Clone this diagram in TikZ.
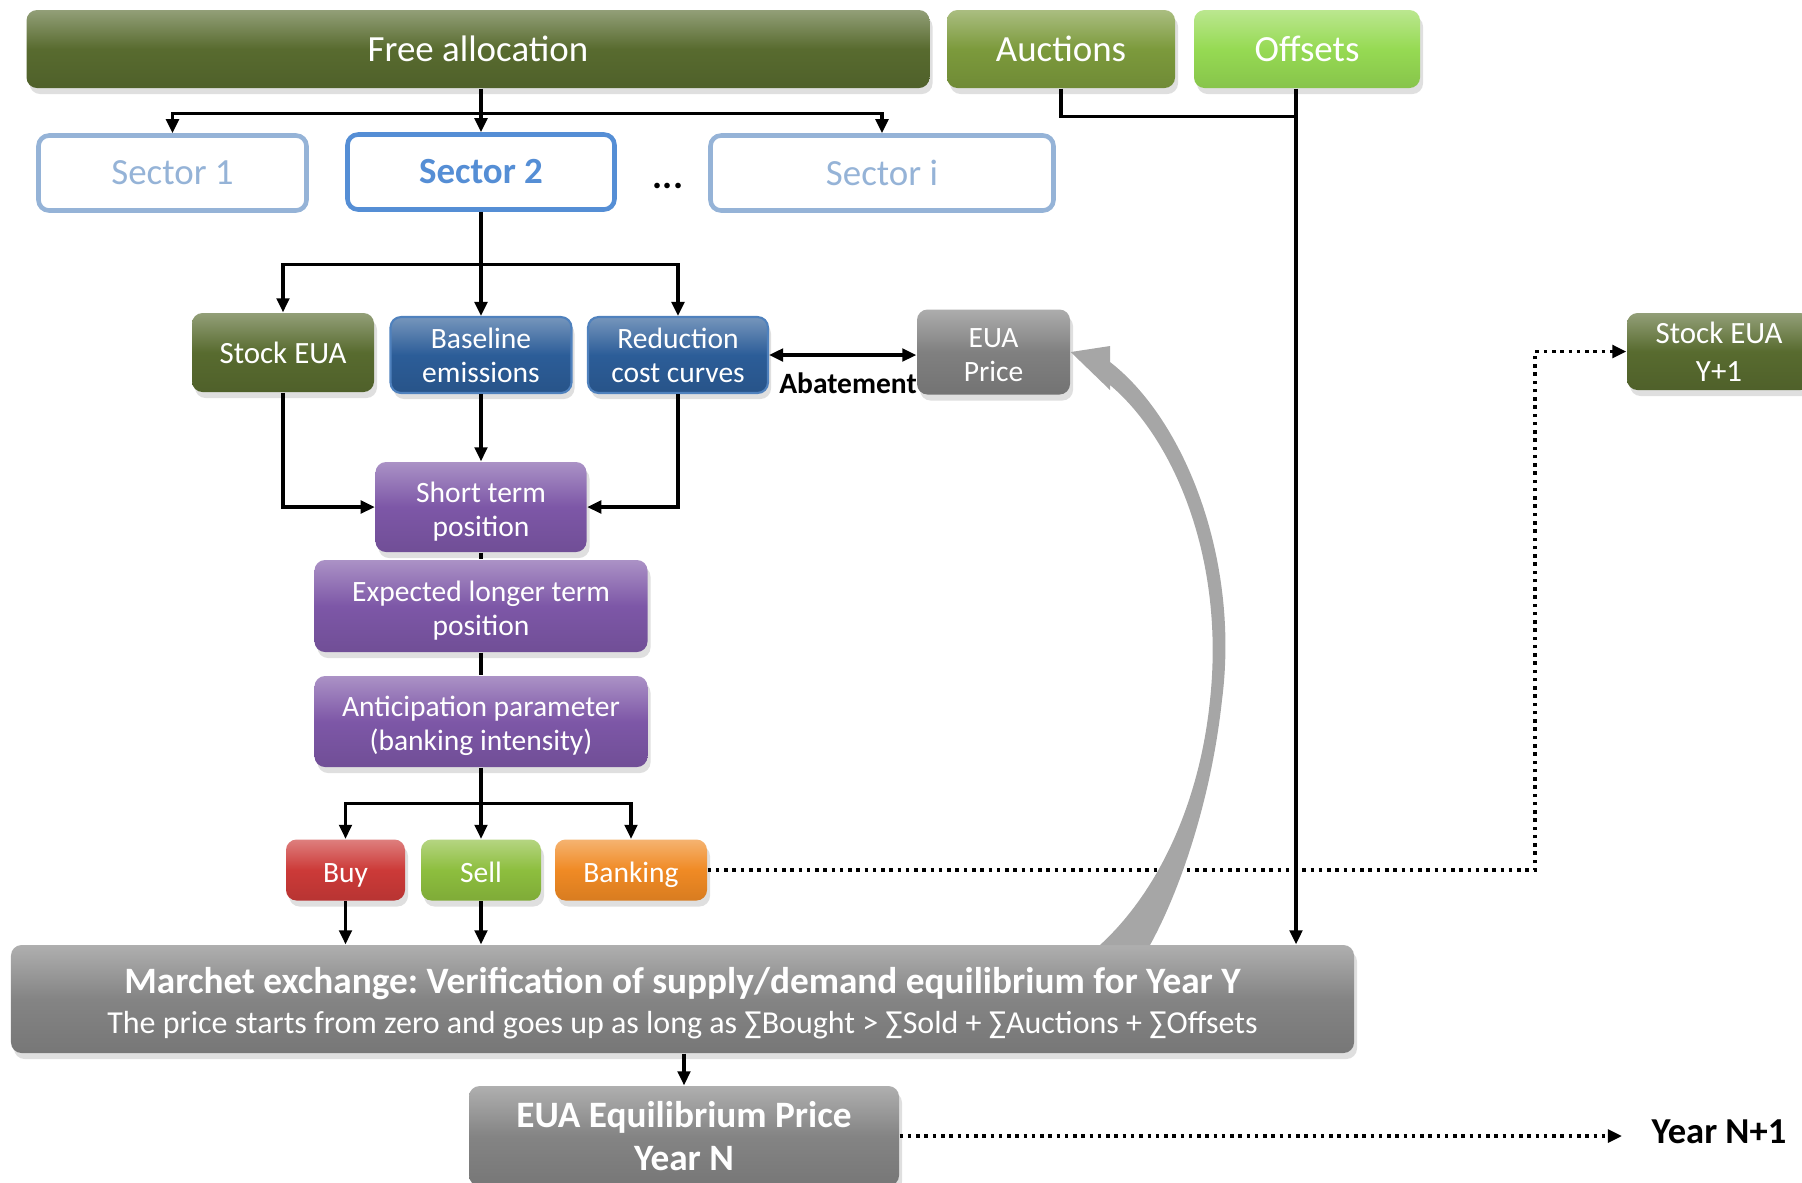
\documentclass[tikz,border=0pt]{standalone}
\usepackage{fontspec}
\setmainfont{Carlito}
\frenchspacing
\usetikzlibrary{arrows.meta,shadows}
\definecolor{olivegreen}{RGB}{88,107,47}
\definecolor{auctgreen}{RGB}{124,154,60}
\definecolor{offsetgreen}{RGB}{150,218,83}
\definecolor{sectorpale}{RGB}{149,179,215}
\definecolor{sectorblue}{RGB}{85,142,213}
\definecolor{boxblue}{RGB}{44,93,152}
\definecolor{boxrim}{RGB}{79,129,189}
\definecolor{pricegray}{RGB}{128,128,128}
\definecolor{boxpurple}{RGB}{125,87,167}
\definecolor{buyred}{RGB}{204,58,56}
\definecolor{sellgreen}{RGB}{141,190,62}
\definecolor{bankorange}{RGB}{240,138,36}
\definecolor{marketgray}{RGB}{132,132,132}
\definecolor{curvegray}{RGB}{166,166,166}
\tikzset{big/.style={font=\fontsize{10.5}{12}\selectfont}}
\tikzset{small/.style={font=\fontsize{8.4}{9.6}\selectfont}}
\tikzset{nudge/.style={execute at begin node={\rule{0pt}{#1}}}}
\tikzset{tile/.style={rounded corners=3pt, align=center, text=white, inner sep=0pt, top color=#1!65!white, bottom color=#1!90!black, middle color=#1, drop shadow={opacity=0.25, shadow xshift=0.3mm, shadow yshift=-0.6mm}}}
\tikzset{purplebox/.style={tile=boxpurple, minimum width=3.33cm, small, nudge=18pt}}
\tikzset{choice/.style={tile=#1, minimum height=0.61cm, small, text height=9pt, text depth=1.7pt}}
\tikzset{sector/.style={draw=sectorpale, line width=1.3pt, rounded corners=3pt, fill=white, text=sectorpale, minimum height=0.75cm, big}}
\tikzset{link/.style={line width=0.9pt}}
\tikzset{flow/.style={line width=0.9pt, -{Triangle[length=4pt,width=3.6pt]}}}
\tikzset{both/.style={line width=0.9pt, {Triangle[length=4pt,width=3.6pt]}-{Triangle[length=4pt,width=3.6pt]}}}
\tikzset{carry/.style={line width=1pt, dash pattern=on 1pt off 1.35pt, -{Triangle[length=4pt,width=3.6pt]}}}
\begin{document}
\begin{tikzpicture}
\useasboundingbox (0,0) rectangle (18.02,-11.82);
% supply
\node[tile=olivegreen, minimum width=9.03cm, minimum height=0.78cm, big] (free) at (4.78,-0.49) {Free allocation};
\node[tile=auctgreen, minimum width=2.28cm, minimum height=0.78cm, big] (auct) at (10.61,-0.49) {Auctions};
\node[tile=offsetgreen, minimum width=2.26cm, minimum height=0.78cm, big] (offs) at (13.07,-0.49) {Offsets};
\node[sector, minimum width=2.68cm] (sec1) at (1.725,-1.73) {Sector 1};
\node[sector, minimum width=2.67cm, draw=sectorblue, text=sectorblue, font=\fontsize{10.5}{12}\selectfont\bfseries] (sec2) at (4.81,-1.72) {Sector 2};
\node[font=\fontsize{10.7}{12}\selectfont\bfseries] (more) at (6.68,-1.86) {...};
\node[sector, minimum width=3.43cm] (seci) at (8.82,-1.73) {Sector i};
% sector 2 inputs
\node[tile=olivegreen, minimum width=1.82cm, minimum height=0.79cm, font=\fontsize{8.8}{10}\selectfont, text height=7pt, text depth=1pt] (stock) at (2.83,-3.525) {Stock EUA};
\node[tile=boxblue, draw=boxrim, line width=0.6pt, minimum width=1.81cm, minimum height=0.76cm, small] (base) at (4.81,-3.55) {Baseline\\emissions};
\node[tile=boxblue, draw=boxrim, line width=0.6pt, minimum width=1.80cm, minimum height=0.76cm, small] (redu) at (6.78,-3.55) {Reduction\\cost curves};
\node[tile=pricegray, minimum width=1.53cm, minimum height=0.85cm, small, nudge=16.6pt] (price) at (9.935,-3.52) {EUA\\Price};
\node[font=\fontsize{8.4}{9.8}\selectfont\bfseries] (abat) at (8.48,-3.83) {Abatement};
\node[tile=olivegreen, minimum width=1.84cm, minimum height=0.77cm, font=\fontsize{8.8}{10.9}\selectfont] (stocknext) at (17.19,-3.515) {Stock EUA\\Y+1};
% position
\node[purplebox, minimum width=2.11cm, minimum height=0.90cm] (short) at (4.81,-5.07) {Short term\\position};
\node[purplebox, minimum height=0.92cm] (expect) at (4.81,-6.06) {Expected longer term\\position};
\node[purplebox, minimum height=0.91cm] (antic) at (4.81,-7.215) {Anticipation parameter\\(banking intensity)};
\node[choice=buyred, minimum width=1.19cm] (buy) at (3.455,-8.70) {Buy};
\node[choice=sellgreen, minimum width=1.20cm] (sell) at (4.81,-8.70) {Sell};
\node[choice=bankorange, minimum width=1.52cm] (bank) at (6.31,-8.70) {Banking};
% market
\node[tile=marketgray, minimum width=13.43cm, minimum height=1.08cm, font=\fontsize{10.6}{11.4}\selectfont, nudge=21.3pt] (market) at (6.825,-9.99) {{\bfseries Marchet exchange: Verification of supply/demand equilibrium for Year Y}\\{\fontsize{9.1}{11.4}\selectfont The price starts from zero and goes up as long as ∑Bought > ∑Sold + ∑Auctions + ∑Offsets}};
\node[tile=marketgray, minimum width=4.30cm, minimum height=1.00cm, font=\fontsize{10.6}{12.2}\selectfont\bfseries] (equil) at (6.84,-11.36) {EUA Equilibrium Price\\Year N};
\node[font=\fontsize{10.4}{12}\selectfont\bfseries, inner xsep=2.9mm] (yearnext) at (17.19,-11.32) {Year N+1};

\path (free.south -| sec2) ++(0,-0.25) coordinate (fork1);
\draw[flow] (free.south -| sec2) -- (sec2.north);
\draw[flow] (fork1) -| (sec1.north);
\draw[flow] (fork1) -| (seci.north);
\coordinate (drop) at ([xshift=-1.1mm]offs.south);
\draw[link] (auct.south) |- ([yshift=-2.8mm]drop);
\draw[flow] (drop) -- (drop |- market.north);

\path (sec2.south) ++(0,-0.53) coordinate (fork2);
\draw[flow] (sec2.south) -- (base.north);
\draw[flow] (fork2) -| (stock.north);
\draw[flow] (fork2) -| (redu.north);
\draw[both] (redu.east) -- (redu.east -| price.west);

\draw[flow] (stock.south) |- (short.west);
\draw[flow] (base.south) -- (short.north);
\draw[flow] (redu.south) |- (short.east);
\draw[link] (short.south) -- (expect.north);
\draw[link] (expect.south) -- (antic.north);

\path (antic.south) ++(0,-0.36) coordinate (fork3);
\draw[flow] (antic.south) -- (sell.north);
\draw[flow] (fork3) -| (buy.north);
\draw[flow] (fork3) -| (bank.north);
\draw[flow] (buy.south) -- (buy.south |- market.north);
\draw[flow] (sell.south) -- (sell.south |- market.north);

\coordinate (bend) at (15.35,-8.70);
\draw[carry] (bank.east) -- (bend) |- (stocknext.west);
\draw[flow] (market.south -| equil.north) -- (equil.north);
\draw[carry] (equil.east) -- (equil.east -| yearnext.west);

% price feedback
\fill[curvegray] (price.east) -- (11.10,-3.46) -- (11.10,-3.62) .. controls (11.85,-4.20) and (12.40,-5.60) .. (12.22,-7.00) .. controls (12.10,-8.10) and (11.75,-9.00) .. (11.50,-9.45) -- (11.00,-9.45) .. controls (11.60,-8.90) and (12.00,-8.00) .. (12.10,-7.00) .. controls (12.25,-5.60) and (11.75,-4.40) .. (11.10,-3.85) -- (11.10,-3.90) -- cycle;
\end{tikzpicture}
\end{document}
